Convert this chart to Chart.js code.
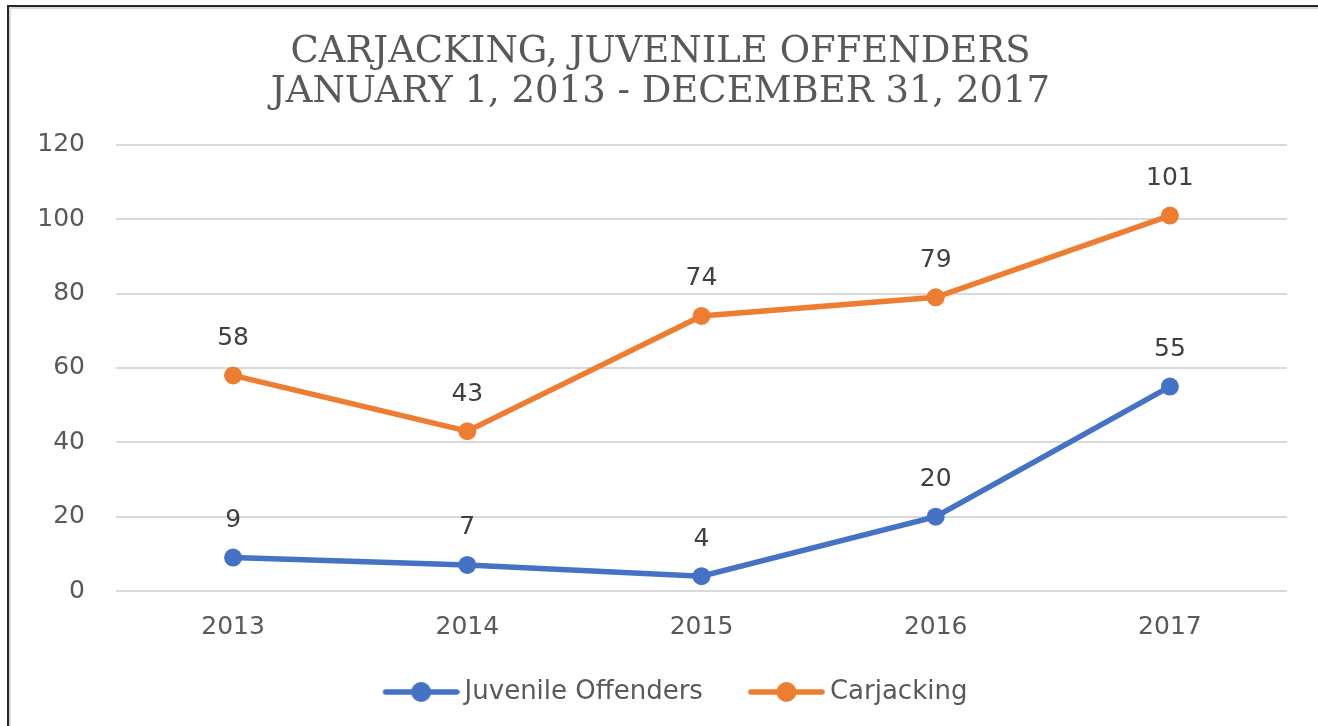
<!DOCTYPE html>
<html>
<head>
<meta charset="utf-8">
<title>Carjacking, Juvenile Offenders</title>
<script src="https://cdn.jsdelivr.net/npm/chart.js@4"></script>
<style>
  html, body { margin: 0; padding: 0; background: #fff; }
  canvas { display: block; }
</style>
</head>
<body>
<canvas id="myChart" width="1318" height="726"></canvas>
<script>
// data
const years = ['2013', '2014', '2015', '2016', '2017'];
const juvenileOffenders = [9, 7, 4, 20, 55];
const carjacking = [58, 43, 74, 79, 101];
const titleLines = ['CARJACKING, JUVENILE OFFENDERS', 'JANUARY 1, 2013 - DECEMBER 31, 2017'];

const blue = '#4472C4';
const orange = '#ED7D31';

// legend marker: short line with a dot, blank on the left to space the items
function legendMarker(color) {
    const c = document.createElement('canvas');
    c.width = 114;
    c.height = 22;
    const ctx = c.getContext('2d');
    ctx.strokeStyle = color;
    ctx.lineWidth = 5.5;
    ctx.lineCap = 'round';
    ctx.beginPath();
    ctx.moveTo(40, 11);
    ctx.lineTo(111, 11);
    ctx.stroke();
    ctx.fillStyle = color;
    ctx.beginPath();
    ctx.arc(75.5, 11, 10, 0, Math.PI * 2);
    ctx.fill();
    return c;
}

// white page with the frame seen on the left and top edges
const framePlugin = {
    id: 'frame',
    beforeDraw(chart) {
        const ctx = chart.ctx;
        ctx.save();
        ctx.fillStyle = '#fff';
        ctx.fillRect(0, 0, chart.width, chart.height);
        ctx.strokeStyle = '#d9d9d9';
        ctx.lineWidth = 2;
        ctx.beginPath();
        ctx.moveTo(10, chart.height);
        ctx.lineTo(10, 8);
        ctx.lineTo(chart.width, 8);
        ctx.stroke();
        ctx.strokeStyle = '#262626';
        ctx.lineWidth = 2;
        ctx.beginPath();
        ctx.moveTo(8, chart.height);
        ctx.lineTo(8, 6);
        ctx.lineTo(chart.width, 6);
        ctx.stroke();
        ctx.restore();
    }
};

// value labels above every point
const valueLabels = {
    id: 'valueLabels',
    afterDatasetsDraw(chart) {
        const ctx = chart.ctx;
        ctx.save();
        ctx.font = '25px "DejaVu Sans"';
        ctx.fillStyle = '#404040';
        ctx.textAlign = 'center';
        ctx.textBaseline = 'middle';
        chart.data.datasets.forEach(function (ds, i) {
            chart.getDatasetMeta(i).data.forEach(function (pt, j) {
                ctx.fillText(ds.data[j], pt.x, pt.y - 37);
            });
        });
        ctx.restore();
    }
};

const markers = [legendMarker(blue), legendMarker(orange)];

new Chart(document.getElementById('myChart'), {
    type: 'line',
    data: {
        labels: years,
        datasets: [{
            label: 'Juvenile Offenders',
            data: juvenileOffenders,
            borderColor: blue,
            backgroundColor: blue,
            borderWidth: 5.5,
            pointRadius: 9,
            pointBorderWidth: 0,
            pointBackgroundColor: blue
        }, {
            label: 'Carjacking',
            data: carjacking,
            borderColor: orange,
            backgroundColor: orange,
            borderWidth: 5.5,
            pointRadius: 9,
            pointBorderWidth: 0,
            pointBackgroundColor: orange
        }]
    },
    options: {
        responsive: false,
        animation: false,
        borderCapStyle: 'round',
        layout: {
            padding: { left: 34, right: 31, top: 10, bottom: 11 }
        },
        plugins: {
            title: {
                display: true,
                text: titleLines,
                color: '#595959',
                font: { family: '"DejaVu Serif"', size: 37, weight: 'normal', lineHeight: 1.08 },
                padding: { top: 22, bottom: 33 }
            },
            legend: {
                position: 'bottom',
                labels: {
                    color: '#595959',
                    font: { family: '"DejaVu Sans"', size: 26 },
                    usePointStyle: true,
                    pointStyleWidth: 98,
                    padding: 16,
                    generateLabels(chart) {
                        return chart.data.datasets.map(function (ds, i) {
                            return {
                                text: ds.label,
                                fontColor: '#595959',
                                pointStyle: markers[i],
                                lineWidth: 0,
                                datasetIndex: i
                            };
                        });
                    }
                }
            },
            tooltip: { enabled: false }
        },
        scales: {
            x: {
                offset: true,
                grid: { display: false, drawTicks: false },
                border: { display: false },
                ticks: {
                    color: '#595959',
                    font: { family: '"DejaVu Sans"', size: 25, lineHeight: 1.2 },
                    padding: 21
                }
            },
            y: {
                min: 0,
                max: 120,
                afterFit(scale) {
                    scale.width = 82;
                },
                ticks: {
                    stepSize: 20,
                    color: '#595959',
                    font: { family: '"DejaVu Sans"', size: 25 },
                    padding: 31
                },
                grid: { color: '#d9d9d9', lineWidth: 2, drawTicks: false },
                border: { display: false }
            }
        }
    },
    plugins: [framePlugin, valueLabels]
});
</script>
</body>
</html>
